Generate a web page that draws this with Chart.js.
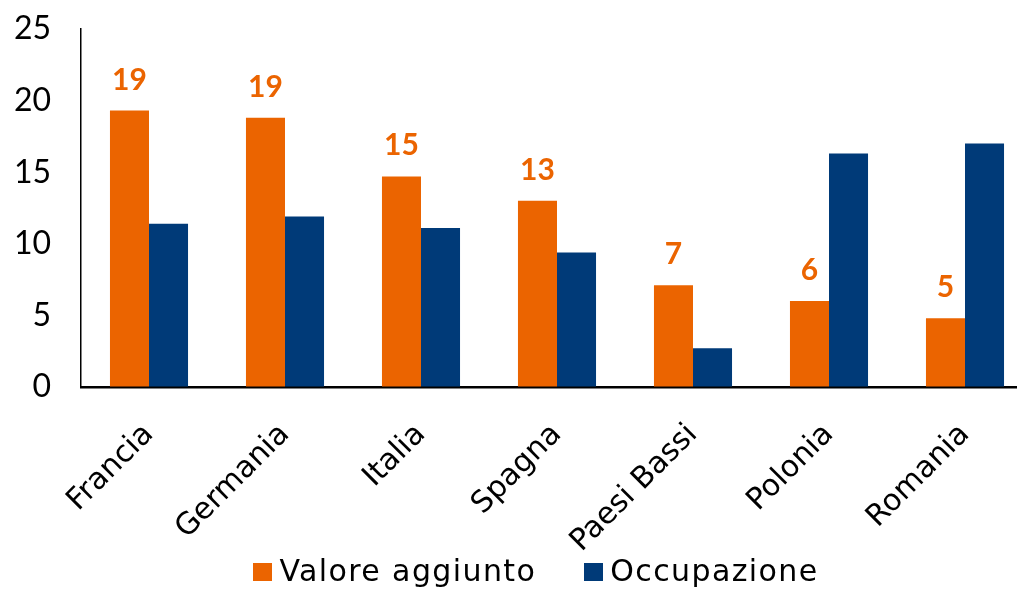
<!DOCTYPE html>
<html>
<head>
<meta charset="utf-8">
<script src="https://cdn.jsdelivr.net/npm/chart.js@4.4.1/dist/chart.umd.min.js"></script>
<style>
  html, body { margin: 0; padding: 0; background: #fff; overflow: hidden; width: 1017px; height: 589px; }
  #wrap { position: absolute; left: 0; top: 0; width: 1040px; height: 589px; }
  #legend { position: absolute; left: 0; top: 553px; width: 1072px; display: flex; justify-content: center; align-items: center;
            font-family: "DejaVu Sans", sans-serif; font-size: 30px; letter-spacing: 1.4px; color: #000; line-height: 36px; }
  .item { display: flex; align-items: center; }
  .sw { width: 19px; height: 18px; margin-right: 7px; margin-top: 2px; }
  .gap { width: 48px; }
</style>
</head>
<body>
<div id="wrap"><canvas id="c" width="1040" height="589"></canvas></div>
<div id="legend"></div>
<script>
const categories = ["Francia", "Germania", "Italia", "Spagna", "Paesi Bassi", "Polonia", "Romania"];
const valoreAggiunto = [19.3, 18.8, 14.7, 13.0, 7.1, 6.0, 4.8];
const occupazione = [11.4, 11.9, 11.1, 9.4, 2.7, 16.3, 17.0];
const seriesNames = ["Valore aggiunto", "Occupazione"];
const seriesColors = ["#EB6400", "#003A78"];
const yTicks = [0, 5, 10, 15, 20, 25];

const labelPlugin = {
  id: 'valueLabels',
  afterDatasetsDraw(chart) {
    const ctx = chart.ctx;
    const meta = chart.getDatasetMeta(0);
    ctx.save();
    ctx.font = "bold 30px Lato, 'DejaVu Sans', sans-serif";
    ctx.fillStyle = seriesColors[0];
    ctx.textAlign = 'center';
    ctx.textBaseline = 'alphabetic';
    meta.data.forEach((el, i) => {
      ctx.fillText(String(Math.round(valoreAggiunto[i])), el.x, el.y - 21);
    });
    ctx.restore();
  }
};

const chart = new Chart(document.getElementById('c'), {
  type: 'bar',
  data: {
    labels: categories,
    datasets: [
      { label: seriesNames[0], data: valoreAggiunto, backgroundColor: seriesColors[0], borderWidth: 0 },
      { label: seriesNames[1], data: occupazione, backgroundColor: seriesColors[1], borderWidth: 0 }
    ]
  },
  options: {
    responsive: false,
    animation: false,
    devicePixelRatio: 1,
    layout: { padding: { top: 29, right: 7, left: 0, bottom: 0 } },
    plugins: { legend: { display: false }, tooltip: { enabled: false } },
    datasets: { bar: { categoryPercentage: 0.574, barPercentage: 1.0 } },
    scales: {
      x: {
        grid: { display: true, drawOnChartArea: false, drawTicks: false },
        border: { display: true, color: '#000', width: 2.5 },
        ticks: {
          color: '#000', maxRotation: 45, minRotation: 45, padding: 30, autoSkip: false,
          font: { family: "'DejaVu Sans', sans-serif", size: 30 }
        },
        afterFit(scale) { scale.height = 589 - 387; scale.paddingLeft = 0; scale.paddingRight = 0; }
      },
      y: {
        min: 0, max: 25,
        afterBuildTicks(scale) { scale.ticks = yTicks.map(v => ({ value: v })); },
        grid: { display: true, drawOnChartArea: false, drawTicks: false },
        border: { display: true, color: '#000', width: 1.5 },
        ticks: {
          color: '#000', padding: 30,
          font: { family: "Lato, 'DejaVu Sans', sans-serif", size: 32 }
        },
        afterFit(scale) { scale.width = 81; scale.paddingTop = 0; scale.paddingBottom = 0; }
      }
    }
  },
  plugins: [labelPlugin]
});

const leg = document.getElementById('legend');
seriesNames.forEach((n, i) => {
  if (i > 0) { const g = document.createElement('div'); g.className = 'gap'; leg.appendChild(g); }
  const it = document.createElement('div'); it.className = 'item';
  const sw = document.createElement('div'); sw.className = 'sw'; sw.style.background = seriesColors[i];
  const tx = document.createElement('span'); tx.textContent = n;
  it.appendChild(sw); it.appendChild(tx); leg.appendChild(it);
});
</script>
</body>
</html>
